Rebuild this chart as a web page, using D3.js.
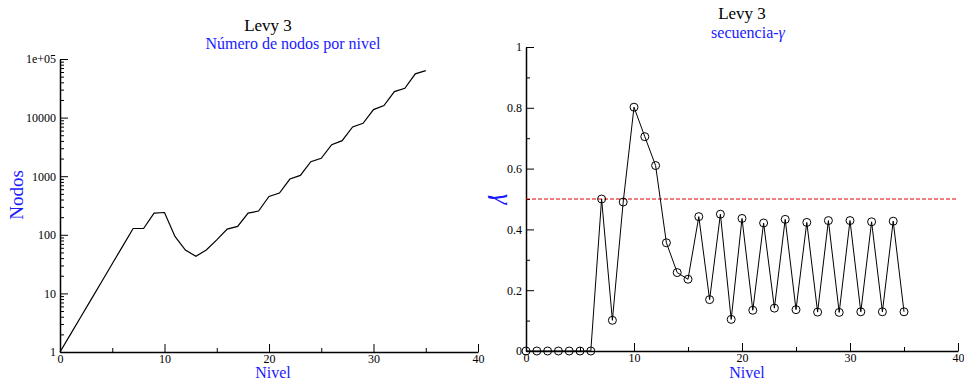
<!DOCTYPE html>
<html>
<head>
<meta charset="utf-8">
<script src="https://d3js.org/d3.v7.min.js"></script>
<style>
  body { margin: 0; background: #fff; }
  text { font-family: "Liberation Serif", "DejaVu Serif", serif; }
  .axis path, .axis line { stroke: #000; }
  .axis text { fill: #000; font-family: "Liberation Serif", serif; }
</style>
</head>
<body>
<div id="chart"></div>
<script>
// data
var niveles = d3.range(0, 36);
var nodos = [1, 2, 4, 8, 16, 32, 64, 128, 128, 235, 240, 94, 55, 43, 55, 82,
  125, 139, 235, 254, 452, 515, 895, 1032, 1770, 2017, 3455, 4045, 6935, 7990,
  13700, 16040, 27800, 31600, 55800, 63500];
var gamma = [0, 0, 0, 0, 0, 0, 0, 0.5, 0.101, 0.49, 0.802, 0.705, 0.61, 0.356,
  0.258, 0.236, 0.442, 0.169, 0.45, 0.104, 0.436, 0.134, 0.421, 0.141, 0.433,
  0.136, 0.423, 0.128, 0.429, 0.127, 0.429, 0.129, 0.425, 0.129, 0.427, 0.129];
var gammaRef = 0.5;
var logTicks = [1, 10, 100, 1000, 10000, 100000];
var logLabels = ["1", "10", "100", "1000", "10000", "1e+05"];
var xMajor = [0, 10, 20, 30, 40];
var xMinor = [5, 15, 25, 35];
var gMajor = [0, 0.2, 0.4, 0.6, 0.8, 1];
var gMinor = [0.1, 0.3, 0.5, 0.7, 0.9];

var svg = d3.select("#chart").append("svg")
  .attr("width", 964)
  .attr("height", 382);

// ---------- left panel: nodes per level ----------
var x1 = d3.scaleLinear().domain([0, 40]).range([60, 478]);
var y1 = d3.scaleLog().domain([1, 1e5]).range([352, 59]);

var logMinor = [];
for (var k = 0; k < 5; k++) {
  for (var m = 2; m < 10; m++) logMinor.push(m * Math.pow(10, k));
}

// minor ticks
svg.append("g")
  .attr("class", "axis")
  .attr("transform", "translate(60,0)")
  .call(d3.axisLeft(y1).tickValues(logMinor).tickSizeInner(-4).tickSizeOuter(0).tickFormat(""))
  .call(g => g.select(".domain").remove());
svg.append("g")
  .attr("class", "axis")
  .attr("transform", "translate(0,352)")
  .call(d3.axisBottom(x1).tickValues(xMinor).tickSizeInner(-4).tickSizeOuter(0).tickFormat(""))
  .call(g => g.select(".domain").remove());

// major ticks
svg.append("g")
  .attr("class", "axis")
  .attr("transform", "translate(60,0)")
  .call(d3.axisLeft(y1).tickValues(logTicks).tickSizeInner(-8).tickSizeOuter(0)
    .tickPadding(4).tickFormat((d, i) => logLabels[i]))
  .call(g => g.selectAll("text").attr("font-size", 12))
  .call(g => g.select(".domain").attr("stroke-width", 1.5));
svg.append("g")
  .attr("class", "axis")
  .attr("transform", "translate(0,352)")
  .call(d3.axisBottom(x1).tickValues(xMajor).tickSizeInner(-8).tickSizeOuter(0)
    .tickPadding(2).tickFormat(d3.format("d")))
  .call(g => g.selectAll("text").attr("font-size", 12))
  .call(g => g.select(".domain").attr("stroke-width", 1.5));

var line1 = d3.line()
  .x((d, i) => x1(niveles[i]))
  .y(d => y1(d));

svg.append("path")
  .datum(nodos)
  .attr("d", line1)
  .attr("fill", "none")
  .attr("stroke", "#000")
  .attr("stroke-width", 1.2);

svg.append("text")
  .attr("x", 268).attr("y", 31)
  .attr("text-anchor", "middle")
  .attr("font-size", 17)
  .text("Levy 3");
svg.append("text")
  .attr("x", 293).attr("y", 49)
  .attr("text-anchor", "middle")
  .attr("font-size", 16)
  .attr("fill", "#1a1aff")
  .text("Número de nodos por nivel");
svg.append("text")
  .attr("x", 273).attr("y", 378)
  .attr("text-anchor", "middle")
  .attr("font-size", 16)
  .attr("fill", "#1a1aff")
  .text("Nivel");
svg.append("text")
  .attr("transform", "translate(23,195) rotate(-90)")
  .attr("text-anchor", "middle")
  .attr("font-size", 19)
  .attr("fill", "#1a1aff")
  .text("Nodos");

// ---------- right panel: gamma sequence ----------
var x2 = d3.scaleLinear().domain([0, 40]).range([526, 958]);
var y2 = d3.scaleLinear().domain([0, 1]).range([351, 47]);

svg.append("g")
  .attr("class", "axis")
  .attr("transform", "translate(526,0)")
  .call(d3.axisLeft(y2).tickValues(gMinor).tickSizeInner(-4).tickSizeOuter(0).tickFormat(""))
  .call(g => g.select(".domain").remove());
svg.append("g")
  .attr("class", "axis")
  .attr("transform", "translate(0,351)")
  .call(d3.axisBottom(x2).tickValues(xMinor).tickSizeInner(-4).tickSizeOuter(0).tickFormat(""))
  .call(g => g.select(".domain").remove());

svg.append("g")
  .attr("class", "axis")
  .attr("transform", "translate(526,0)")
  .call(d3.axisLeft(y2).tickValues(gMajor).tickSizeInner(-8).tickSizeOuter(0)
    .tickPadding(4).tickFormat(d => d === 0 ? "0" : d === 1 ? "1" : d3.format(".1f")(d)))
  .call(g => g.selectAll("text").attr("font-size", 12))
  .call(g => g.select(".domain").attr("stroke-width", 1.5));
svg.append("g")
  .attr("class", "axis")
  .attr("transform", "translate(0,351)")
  .call(d3.axisBottom(x2).tickValues(xMajor).tickSizeInner(-8).tickSizeOuter(0)
    .tickPadding(2).tickFormat(d3.format("d")))
  .call(g => g.selectAll("text").attr("font-size", 12))
  .call(g => g.select(".domain").attr("stroke-width", 1.5));

// reference line at 0.5
svg.append("line")
  .attr("x1", x2(0)).attr("x2", x2(40))
  .attr("y1", y2(gammaRef)).attr("y2", y2(gammaRef))
  .attr("stroke", "#e00000")
  .attr("stroke-width", 1)
  .attr("stroke-dasharray", "4,2");

var line2 = d3.line()
  .x((d, i) => x2(niveles[i]))
  .y(d => y2(d));

svg.append("path")
  .datum(gamma)
  .attr("d", line2)
  .attr("fill", "none")
  .attr("stroke", "#000")
  .attr("stroke-width", 1);

svg.append("g").selectAll("circle")
  .data(gamma)
  .enter()
  .append("circle")
  .attr("cx", (d, i) => x2(niveles[i]))
  .attr("cy", d => y2(d))
  .attr("r", 4)
  .attr("fill", "none")
  .attr("stroke", "#000")
  .attr("stroke-width", 1);

svg.append("text")
  .attr("x", 742).attr("y", 19)
  .attr("text-anchor", "middle")
  .attr("font-size", 17)
  .text("Levy 3");
var sub2 = svg.append("text")
  .attr("x", 748).attr("y", 38)
  .attr("text-anchor", "middle")
  .attr("font-size", 16)
  .attr("fill", "#1a1aff");
sub2.append("tspan").text("secuencia-");
sub2.append("tspan").attr("font-style", "italic").text("γ");
svg.append("text")
  .attr("x", 747).attr("y", 378)
  .attr("text-anchor", "middle")
  .attr("font-size", 16)
  .attr("fill", "#1a1aff")
  .text("Nivel");
svg.append("text")
  .attr("transform", "translate(494,199) rotate(90)")
  .attr("text-anchor", "middle")
  .attr("font-size", 27)
  .attr("font-style", "italic")
  .attr("fill", "#1a1aff")
  .text("γ");
</script>
</body>
</html>
